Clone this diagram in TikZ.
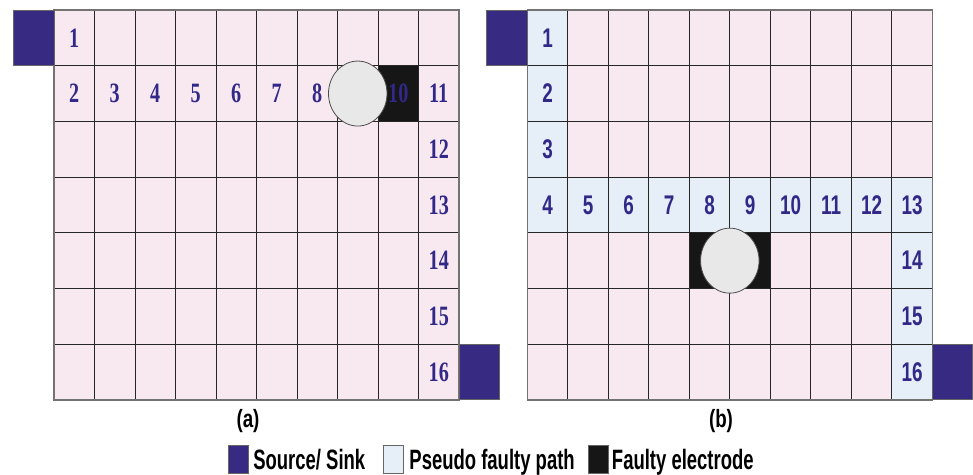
\documentclass[tikz,border=0pt]{standalone}
\usepackage{fontspec}
\setmainfont{Liberation Sans}
\newfontfamily\gridserif{Liberation Serif}[FakeStretch=0.72]
\newfontfamily\gridsans{Liberation Sans}[FakeStretch=0.7]
\newfontfamily\keysans{Liberation Sans}[FakeStretch=0.66]
\newfontfamily\capsans{Liberation Sans}[FakeStretch=0.75]
\usetikzlibrary{positioning,shapes.geometric}
\definecolor{cellpink}{RGB}{248,233,241}
\definecolor{pathblue}{RGB}{230,238,247}
\definecolor{srcblue}{RGB}{55,42,130}
\definecolor{faultblk}{RGB}{22,22,22}
\definecolor{numblue}{RGB}{50,40,135}
\definecolor{dropgray}{RGB}{232,232,232}

\begin{document}
\begin{tikzpicture}[x=1pt, y=-1pt,
    cell/.style={draw=black!85, line width=1pt, fill=cellpink, minimum width=40.5pt, minimum height=55.7pt, inner sep=0pt, outer sep=0pt},
    port/.style={cell, fill=srcblue, draw=black!60},
    fault/.style={cell, fill=faultblk},
    drop/.style={ellipse, draw=black!70, line width=0.8pt, fill=dropgray, minimum width=58.5pt, minimum height=65pt, inner sep=0pt},
    numa/.style={text=numblue, font=\gridserif\bfseries\fontsize{28}{28}\selectfont},
    numb/.style={text=numblue, font=\gridsans\bfseries\fontsize{27}{27}\selectfont},
    subcap/.style={font=\capsans\bfseries\fontsize{25}{25}\selectfont},
    key/.style={draw=black!60, line width=0.8pt, minimum width=20pt, minimum height=28pt, inner sep=0pt},
    keytext/.style={font=\keysans\bfseries\fontsize{28}{28}\selectfont, inner sep=0pt, text height=21pt, text depth=0pt}
]
\useasboundingbox (0,0) rectangle (973,474);

% (a): one faulty electrode
\foreach \r in {1,...,7}
  \foreach \c in {1,...,10}
    \node[cell] (a-\r-\c) at ({33.75+40.5*\c}, {10+55.7*(\r-0.5)}) {};
\draw[black!55, line width=1.2pt] (a-1-1.north west) rectangle (a-7-10.south east);
\node[port, left=0pt of a-1-1] (srcA) {};
\node[port, right=0pt of a-7-10] (snkA) {};
\node[fault] (fltA) at (a-2-9) {};
\node[drop] (dropA) at (a-2-8) {};
\foreach \r/\c/\n in {1/1/1, 2/1/2, 2/2/3, 2/3/4, 2/4/5, 2/5/6, 2/6/7, 2/7/8, 2/9/10,
    2/10/11, 3/10/12, 4/10/13, 5/10/14, 6/10/15, 7/10/16}
  \node[numa] (na-\n) at (a-\r-\c) {\n};
\node[subcap] (capA) at (248,421) {(a)};

% (b): pseudo faulty path
\foreach \r in {1,...,7}
  \foreach \c in {1,...,10}
    \node[cell] (b-\r-\c) at ({507.05+40.5*\c}, {10+55.7*(\r-0.5)}) {};
\foreach \r/\c/\n in {1/1/1, 2/1/2, 3/1/3, 4/1/4, 4/2/5, 4/3/6, 4/4/7, 4/5/8, 4/6/9,
    4/7/10, 4/8/11, 4/9/12, 4/10/13, 5/10/14, 6/10/15, 7/10/16}
  \node[cell, fill=pathblue, numb] (nb-\n) at (b-\r-\c) {\n};
\draw[black!55, line width=1.2pt] (b-1-1.north west) rectangle (b-7-10.south east);
\node[port, left=0pt of b-1-1] (srcB) {};
\node[port, right=0pt of b-7-10] (snkB) {};
\node[fault] (fltB1) at (b-5-5) {};
\node[fault] (fltB2) at (b-5-6) {};
\node[drop] (dropB) at (b-5-5.east) {};
\node[subcap] (capB) at (721,421) {(b)};

% legend
\node[key, fill=srcblue] (keySrc) at (238,459) {};
\node[keytext, right=4.7pt of keySrc] (txtSrc) {Source/ Sink};
\node[key, fill=pathblue, right=18pt of txtSrc] (keyPath) {};
\node[keytext, right=5pt of keyPath] (txtPath) {Pseudo faulty path};
\node[key, fill=faultblk, right=13pt of txtPath] (keyFlt) {};
\node[keytext, right=3pt of keyFlt] (txtFlt) {Faulty electrode};
\end{tikzpicture}
\end{document}
